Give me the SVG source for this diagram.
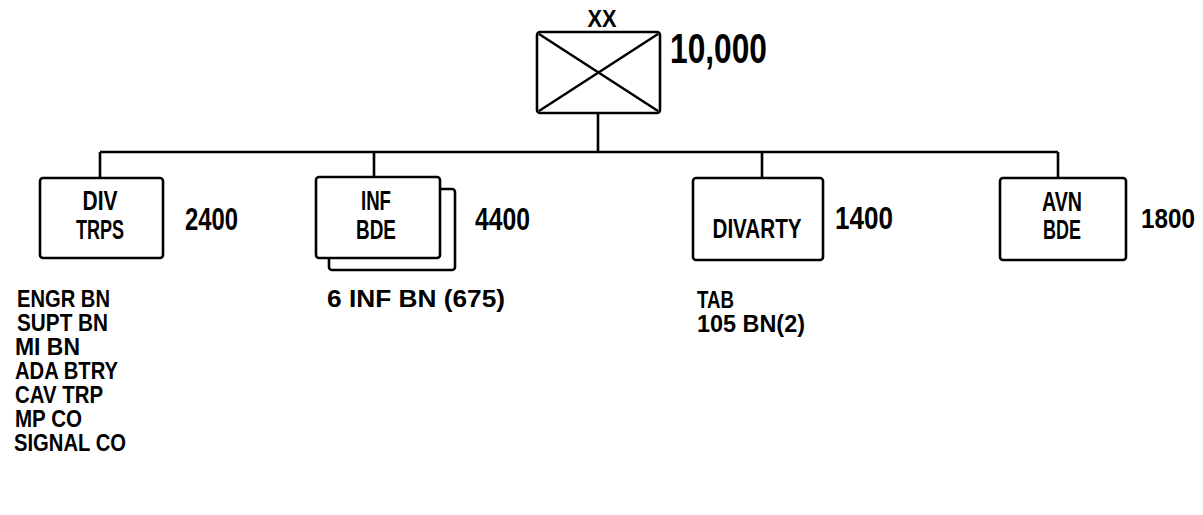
<svg xmlns="http://www.w3.org/2000/svg" width="1203" height="515" viewBox="0 0 1203 515">
<style>
.box{fill:#fff;stroke:#000;stroke-width:2.6}
.ln{fill:none;stroke:#000;stroke-width:2.6}
text{font-family:"Liberation Sans",Arial,sans-serif;fill:#000;font-weight:bold}
.lb{font-size:27px;text-anchor:middle}
.num{font-size:31px}
.ls{font-size:23px}
</style>
<rect width="1203" height="515" fill="#fff"/>
<g id="connectors">
<path class="ln" d="M598 113V152M100 152H1058M100 152V178M374 152V177M762 152V178M1058 152V178"/>
</g>
<g id="division">
<rect class="box" x="537" y="32" width="123" height="81" rx="3"/>
<path class="ln" d="M539 34L658 111M658 34L539 111" stroke-width="2"/>
<text x="602" y="27" font-size="23" text-anchor="middle" textLength="29" lengthAdjust="spacingAndGlyphs">XX</text>
<text x="670" y="63" font-size="42" textLength="97" lengthAdjust="spacingAndGlyphs">10,000</text>
</g>
<g id="div-trps">
<rect class="box" x="40" y="178" width="123" height="80" rx="3"/>
<text class="lb" x="100" y="210" textLength="35" lengthAdjust="spacingAndGlyphs">DIV</text>
<text class="lb" x="100" y="239" textLength="48" lengthAdjust="spacingAndGlyphs">TRPS</text>
<text class="num" x="185" y="230" textLength="53" lengthAdjust="spacingAndGlyphs">2400</text>
<text class="ls" x="17" y="307" textLength="93" lengthAdjust="spacingAndGlyphs">ENGR BN</text>
<text class="ls" x="17" y="331" textLength="91" lengthAdjust="spacingAndGlyphs">SUPT BN</text>
<text class="ls" x="15" y="355" textLength="65" lengthAdjust="spacingAndGlyphs">MI BN</text>
<text class="ls" x="15" y="379" textLength="103" lengthAdjust="spacingAndGlyphs">ADA BTRY</text>
<text class="ls" x="15" y="403" textLength="88" lengthAdjust="spacingAndGlyphs">CAV TRP</text>
<text class="ls" x="15" y="427" textLength="67" lengthAdjust="spacingAndGlyphs">MP CO</text>
<text class="ls" x="14" y="451" textLength="112" lengthAdjust="spacingAndGlyphs">SIGNAL CO</text>
</g>
<g id="inf-bde">
<rect class="box" x="329" y="189" width="126" height="81" rx="3"/>
<rect class="box" x="316" y="177" width="124" height="81" rx="3"/>
<text class="lb" x="376" y="210" textLength="30" lengthAdjust="spacingAndGlyphs">INF</text>
<text class="lb" x="376" y="239" textLength="40" lengthAdjust="spacingAndGlyphs">BDE</text>
<text class="num" x="475" y="230" textLength="55" lengthAdjust="spacingAndGlyphs">4400</text>
<text class="ls" x="327" y="307" textLength="178" lengthAdjust="spacingAndGlyphs">6 INF BN (675)</text>
</g>
<g id="divarty">
<rect class="box" x="693" y="178" width="130" height="82" rx="3"/>
<text class="lb" x="757" y="238" textLength="89" lengthAdjust="spacingAndGlyphs">DIVARTY</text>
<text class="num" x="835" y="229" textLength="58" lengthAdjust="spacingAndGlyphs">1400</text>
<text class="ls" x="697" y="308" textLength="37" lengthAdjust="spacingAndGlyphs">TAB</text>
<text class="ls" x="697" y="332" textLength="108" lengthAdjust="spacingAndGlyphs">105 BN(2)</text>
</g>
<g id="avn-bde">
<rect class="box" x="1000" y="178" width="126" height="82" rx="3"/>
<text class="lb" x="1062" y="211" font-size="25" textLength="40" lengthAdjust="spacingAndGlyphs">AVN</text>
<text class="lb" x="1062" y="239" font-size="25" textLength="38" lengthAdjust="spacingAndGlyphs">BDE</text>
<text x="1141" y="228" font-size="27" textLength="54" lengthAdjust="spacingAndGlyphs">1800</text>
</g>
</svg>
